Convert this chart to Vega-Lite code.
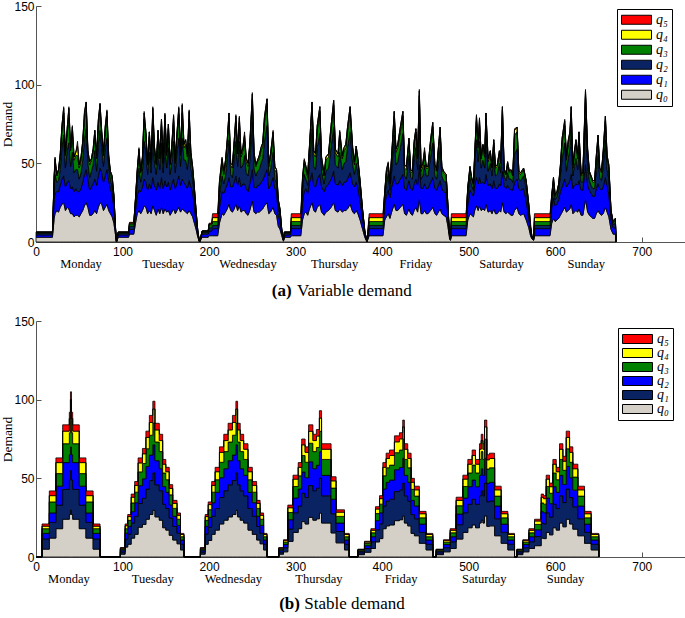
{
"$schema":"https://vega.github.io/schema/vega-lite/v6.json",
"padding":{"left":0,"top":0,"right":0,"bottom":0},
"background":"white",
"spacing":16,
"config":{"view":{"stroke":null},"axis":{"grid":false},"font":"Liberation Serif"},
"resolve":{"scale":{"color":"independent"},"legend":{"color":"independent"}},
"datasets":{
"top":[
{"x":0,"q0":3,"q1":1.5,"q2":1,"q3":0.8,"q4":0,"q5":0},
{"x":19,"q0":3,"q1":1.5,"q2":1,"q3":0.8,"q4":0,"q5":0},
{"x":21,"q0":15,"q1":12,"q2":8,"q3":6,"q4":1,"q5":0},
{"x":22,"q0":18,"q1":13,"q2":12,"q3":8,"q4":2,"q5":1},
{"x":24,"q0":20,"q1":12,"q2":6,"q3":4,"q4":1,"q5":0},
{"x":26,"q0":19,"q1":13,"q2":7,"q3":6,"q4":1,"q5":0},
{"x":28,"q0":22,"q1":14,"q2":10,"q3":8,"q4":2,"q5":0},
{"x":30,"q0":24,"q1":16,"q2":20,"q3":12,"q4":2,"q5":0},
{"x":32,"q0":25,"q1":17,"q2":26,"q3":14,"q4":3,"q5":1},
{"x":34,"q0":20,"q1":15,"q2":12,"q3":8,"q4":1,"q5":0},
{"x":36,"q0":22,"q1":16,"q2":20,"q3":11,"q4":3,"q5":0},
{"x":38,"q0":21,"q1":18,"q2":24,"q3":16,"q4":6,"q5":1},
{"x":40,"q0":18,"q1":16,"q2":14,"q3":10,"q4":2,"q5":0},
{"x":42,"q0":18,"q1":17,"q2":22,"q3":12,"q4":4,"q5":1},
{"x":44,"q0":16,"q1":16,"q2":12,"q3":8,"q4":2,"q5":0},
{"x":46,"q0":17,"q1":17,"q2":12,"q3":9,"q4":2,"q5":0},
{"x":48,"q0":17,"q1":15,"q2":14,"q3":9,"q4":6,"q5":3},
{"x":50,"q0":16,"q1":16,"q2":8,"q3":7,"q4":2,"q5":0},
{"x":52,"q0":18,"q1":16,"q2":10,"q3":8,"q4":2,"q5":0},
{"x":54,"q0":20,"q1":18,"q2":14,"q3":10,"q4":2,"q5":0},
{"x":56,"q0":23,"q1":20,"q2":22,"q3":13,"q4":4,"q5":1},
{"x":58,"q0":25,"q1":21,"q2":26,"q3":14,"q4":3,"q5":0},
{"x":60,"q0":22,"q1":18,"q2":10,"q3":6,"q4":2,"q5":0},
{"x":62,"q0":17,"q1":16,"q2":8,"q3":8,"q4":2,"q5":0},
{"x":64,"q0":17,"q1":18,"q2":10,"q3":7,"q4":1,"q5":0},
{"x":66,"q0":18,"q1":19,"q2":12,"q3":8,"q4":2,"q5":0},
{"x":68,"q0":20,"q1":20,"q2":18,"q3":10,"q4":3,"q5":0},
{"x":70,"q0":18,"q1":18,"q2":9,"q3":8,"q4":2,"q5":0},
{"x":72,"q0":22,"q1":20,"q2":20,"q3":12,"q4":3,"q5":1},
{"x":74,"q0":25,"q1":22,"q2":24,"q3":14,"q4":3,"q5":0},
{"x":76,"q0":24,"q1":20,"q2":16,"q3":8,"q4":2,"q5":0},
{"x":78,"q0":20,"q1":18,"q2":10,"q3":7,"q4":2,"q5":0},
{"x":80,"q0":22,"q1":20,"q2":18,"q3":10,"q4":3,"q5":1},
{"x":82,"q0":24,"q1":22,"q2":20,"q3":14,"q4":3,"q5":1},
{"x":84,"q0":20,"q1":19,"q2":8,"q3":6,"q4":2,"q5":0},
{"x":86,"q0":18,"q1":16,"q2":6,"q3":4,"q4":1,"q5":0},
{"x":88,"q0":16,"q1":14,"q2":5,"q3":5,"q4":2,"q5":0},
{"x":90,"q0":12,"q1":10,"q2":4,"q3":3,"q4":1,"q5":0},
{"x":92,"q0":4,"q1":2,"q2":1,"q3":1,"q4":0,"q5":0},
{"x":93,"q0":0,"q1":0,"q2":0,"q3":0,"q4":0,"q5":0},
{"x":95,"q0":3,"q1":1.5,"q2":1,"q3":0.8,"q4":0,"q5":0},
{"x":107,"q0":3,"q1":1.5,"q2":1,"q3":0.8,"q4":0,"q5":0},
{"x":108,"q0":5,"q1":3,"q2":2,"q3":1.5,"q4":0.5,"q5":0.5},
{"x":113,"q0":5,"q1":3,"q2":2,"q3":1.5,"q4":0.5,"q5":0.5},
{"x":115,"q0":12,"q1":8,"q2":4,"q3":3,"q4":1,"q5":0},
{"x":117,"q0":18,"q1":12,"q2":8,"q3":6,"q4":2,"q5":0},
{"x":119,"q0":20,"q1":13,"q2":14,"q3":10,"q4":2,"q5":1},
{"x":121,"q0":18,"q1":14,"q2":6,"q3":6,"q4":1,"q5":0},
{"x":123,"q0":20,"q1":15,"q2":10,"q3":8,"q4":1,"q5":0},
{"x":125,"q0":23,"q1":17,"q2":24,"q3":14,"q4":4,"q5":1},
{"x":127,"q0":22,"q1":16,"q2":20,"q3":10,"q4":2,"q5":0},
{"x":129,"q0":18,"q1":15,"q2":10,"q3":6,"q4":1,"q5":0},
{"x":131,"q0":20,"q1":17,"q2":20,"q3":10,"q4":3,"q5":0},
{"x":133,"q0":18,"q1":16,"q2":10,"q3":6,"q4":2,"q5":0},
{"x":135,"q0":23,"q1":18,"q2":26,"q3":14,"q4":4,"q5":1},
{"x":137,"q0":20,"q1":16,"q2":14,"q3":8,"q4":2,"q5":0},
{"x":139,"q0":17,"q1":16,"q2":10,"q3":6,"q4":1,"q5":0},
{"x":141,"q0":21,"q1":17,"q2":20,"q3":10,"q4":3,"q5":0},
{"x":143,"q0":18,"q1":16,"q2":12,"q3":7,"q4":2,"q5":0},
{"x":145,"q0":22,"q1":19,"q2":22,"q3":12,"q4":3,"q5":0},
{"x":147,"q0":18,"q1":16,"q2":10,"q3":6,"q4":2,"q5":0},
{"x":149,"q0":21,"q1":18,"q2":24,"q3":14,"q4":4,"q5":1},
{"x":151,"q0":19,"q1":16,"q2":12,"q3":8,"q4":2,"q5":0},
{"x":153,"q0":20,"q1":18,"q2":22,"q3":12,"q4":3,"q5":0},
{"x":155,"q0":17,"q1":16,"q2":10,"q3":6,"q4":1,"q5":0},
{"x":157,"q0":19,"q1":18,"q2":14,"q3":9,"q4":2,"q5":0},
{"x":159,"q0":21,"q1":19,"q2":24,"q3":13,"q4":3,"q5":1},
{"x":161,"q0":18,"q1":16,"q2":10,"q3":6,"q4":2,"q5":0},
{"x":163,"q0":20,"q1":18,"q2":20,"q3":10,"q4":2,"q5":0},
{"x":165,"q0":22,"q1":20,"q2":24,"q3":15,"q4":4,"q5":1},
{"x":167,"q0":19,"q1":17,"q2":12,"q3":7,"q4":2,"q5":0},
{"x":169,"q0":21,"q1":19,"q2":26,"q3":16,"q4":5,"q5":1},
{"x":171,"q0":20,"q1":18,"q2":14,"q3":8,"q4":2,"q5":0},
{"x":173,"q0":19,"q1":17,"q2":16,"q3":10,"q4":3,"q5":0},
{"x":175,"q0":18,"q1":16,"q2":12,"q3":8,"q4":2,"q5":0},
{"x":177,"q0":20,"q1":19,"q2":24,"q3":15,"q4":5,"q5":1},
{"x":179,"q0":18,"q1":17,"q2":12,"q3":8,"q4":2,"q5":0},
{"x":181,"q0":16,"q1":16,"q2":8,"q3":6,"q4":2,"q5":0},
{"x":183,"q0":12,"q1":10,"q2":8,"q3":4,"q4":1,"q5":0},
{"x":185,"q0":8,"q1":5,"q2":4,"q3":2,"q4":1,"q5":0},
{"x":187,"q0":3,"q1":2,"q2":1,"q3":1,"q4":0,"q5":0},
{"x":189,"q0":0,"q1":0,"q2":0,"q3":0,"q4":0,"q5":0},
{"x":192,"q0":3,"q1":2,"q2":1,"q3":1,"q4":0,"q5":0},
{"x":199,"q0":3,"q1":2,"q2":1,"q3":1,"q4":0,"q5":0},
{"x":200,"q0":4,"q1":3,"q2":2,"q3":2,"q4":0.5,"q5":0.5},
{"x":203,"q0":4,"q1":3,"q2":2,"q3":2,"q4":0.5,"q5":0.5},
{"x":204,"q0":4,"q1":4.5,"q2":2,"q3":2.5,"q4":2.5,"q5":2.5},
{"x":210,"q0":4,"q1":4.5,"q2":2,"q3":2.5,"q4":2.5,"q5":2.5},
{"x":212,"q0":12,"q1":10,"q2":8,"q3":6,"q4":2,"q5":1},
{"x":215,"q0":18,"q1":14,"q2":10,"q3":8,"q4":3,"q5":1},
{"x":217,"q0":17,"q1":14,"q2":6,"q3":6,"q4":2,"q5":0},
{"x":219,"q0":19,"q1":15,"q2":8,"q3":8,"q4":2,"q5":0},
{"x":221,"q0":21,"q1":16,"q2":16,"q3":10,"q4":2,"q5":0},
{"x":223,"q0":24,"q1":17,"q2":24,"q3":14,"q4":3,"q5":0},
{"x":225,"q0":20,"q1":15,"q2":8,"q3":6,"q4":1,"q5":0},
{"x":227,"q0":19,"q1":16,"q2":6,"q3":6,"q4":2,"q5":0},
{"x":229,"q0":21,"q1":17,"q2":14,"q3":10,"q4":2,"q5":0},
{"x":231,"q0":24,"q1":18,"q2":22,"q3":13,"q4":3,"q5":1},
{"x":233,"q0":20,"q1":16,"q2":12,"q3":8,"q4":2,"q5":0},
{"x":235,"q0":23,"q1":18,"q2":23,"q3":12,"q4":3,"q5":1},
{"x":237,"q0":19,"q1":16,"q2":12,"q3":7,"q4":2,"q5":0},
{"x":239,"q0":20,"q1":17,"q2":12,"q3":9,"q4":2,"q5":0},
{"x":241,"q0":20,"q1":17,"q2":18,"q3":10,"q4":3,"q5":2},
{"x":243,"q0":18,"q1":16,"q2":10,"q3":7,"q4":2,"q5":0},
{"x":245,"q0":17,"q1":15,"q2":10,"q3":6,"q4":2,"q5":0},
{"x":247,"q0":20,"q1":17,"q2":14,"q3":9,"q4":2,"q5":0},
{"x":250,"q0":26,"q1":20,"q2":30,"q3":15,"q4":3,"q5":1},
{"x":252,"q0":19,"q1":16,"q2":12,"q3":8,"q4":2,"q5":0},
{"x":254,"q0":18,"q1":16,"q2":8,"q3":6,"q4":1,"q5":0},
{"x":256,"q0":19,"q1":17,"q2":9,"q3":6,"q4":1,"q5":0},
{"x":258,"q0":19,"q1":17,"q2":10,"q3":7,"q4":2,"q5":0},
{"x":260,"q0":20,"q1":18,"q2":12,"q3":8,"q4":2,"q5":0},
{"x":262,"q0":21,"q1":18,"q2":14,"q3":8,"q4":2,"q5":0},
{"x":264,"q0":23,"q1":19,"q2":22,"q3":12,"q4":3,"q5":1},
{"x":267,"q0":25,"q1":21,"q2":28,"q3":14,"q4":3,"q5":0},
{"x":269,"q0":18,"q1":16,"q2":8,"q3":6,"q4":2,"q5":0},
{"x":271,"q0":19,"q1":17,"q2":10,"q3":8,"q4":2,"q5":0},
{"x":274,"q0":22,"q1":19,"q2":16,"q3":10,"q4":3,"q5":1},
{"x":276,"q0":18,"q1":16,"q2":6,"q3":6,"q4":2,"q5":0},
{"x":278,"q0":17,"q1":15,"q2":6,"q3":6,"q4":2,"q5":0},
{"x":280,"q0":10,"q1":7,"q2":6,"q3":3,"q4":1,"q5":0},
{"x":282,"q0":8,"q1":5,"q2":4,"q3":3,"q4":1,"q5":0},
{"x":284,"q0":4,"q1":2,"q2":1,"q3":1,"q4":0,"q5":0},
{"x":286,"q0":0.5,"q1":0.5,"q2":0,"q3":0,"q4":0,"q5":0},
{"x":287,"q0":3,"q1":1.5,"q2":1,"q3":0.8,"q4":0,"q5":0},
{"x":294,"q0":3,"q1":1.5,"q2":1,"q3":0.8,"q4":0,"q5":0},
{"x":295,"q0":4,"q1":4.5,"q2":2,"q3":2.5,"q4":2.5,"q5":2.5},
{"x":306,"q0":4,"q1":4.5,"q2":2,"q3":2.5,"q4":2.5,"q5":2.5},
{"x":308,"q0":14,"q1":11,"q2":8,"q3":6,"q4":2,"q5":0},
{"x":310,"q0":18,"q1":15,"q2":10,"q3":7,"q4":2,"q5":1},
{"x":312,"q0":19,"q1":15,"q2":6,"q3":6,"q4":2,"q5":0},
{"x":314,"q0":17,"q1":14,"q2":5,"q3":5,"q4":2,"q5":0},
{"x":316,"q0":21,"q1":17,"q2":12,"q3":9,"q4":2,"q5":0},
{"x":319,"q0":25,"q1":19,"q2":28,"q3":14,"q4":3,"q5":0},
{"x":321,"q0":20,"q1":16,"q2":12,"q3":8,"q4":2,"q5":0},
{"x":323,"q0":19,"q1":16,"q2":11,"q3":8,"q4":2,"q5":0},
{"x":325,"q0":22,"q1":18,"q2":20,"q3":11,"q4":3,"q5":0},
{"x":328,"q0":24,"q1":19,"q2":26,"q3":14,"q4":3,"q5":0},
{"x":330,"q0":19,"q1":16,"q2":10,"q3":7,"q4":2,"q5":0},
{"x":333,"q0":17,"q1":15,"q2":5,"q3":5,"q4":1,"q5":0},
{"x":335,"q0":19,"q1":16,"q2":10,"q3":7,"q4":2,"q5":0},
{"x":338,"q0":20,"q1":17,"q2":10,"q3":7,"q4":2,"q5":0},
{"x":341,"q0":22,"q1":18,"q2":20,"q3":11,"q4":3,"q5":0},
{"x":344,"q0":25,"q1":20,"q2":28,"q3":14,"q4":3,"q5":0},
{"x":346,"q0":20,"q1":17,"q2":12,"q3":8,"q4":2,"q5":0},
{"x":349,"q0":19,"q1":17,"q2":11,"q3":7,"q4":2,"q5":0},
{"x":351,"q0":21,"q1":18,"q2":18,"q3":10,"q4":3,"q5":1},
{"x":354,"q0":19,"q1":17,"q2":10,"q3":7,"q4":2,"q5":0},
{"x":356,"q0":20,"q1":18,"q2":12,"q3":8,"q4":2,"q5":0},
{"x":358,"q0":20,"q1":18,"q2":13,"q3":9,"q4":2,"q5":0},
{"x":360,"q0":21,"q1":19,"q2":20,"q3":10,"q4":3,"q5":0},
{"x":363,"q0":24,"q1":20,"q2":26,"q3":13,"q4":3,"q5":0},
{"x":366,"q0":19,"q1":18,"q2":12,"q3":9,"q4":2,"q5":0},
{"x":368,"q0":18,"q1":17,"q2":8,"q3":6,"q4":2,"q5":0},
{"x":370,"q0":20,"q1":18,"q2":12,"q3":9,"q4":2,"q5":0},
{"x":372,"q0":18,"q1":17,"q2":9,"q3":7,"q4":2,"q5":0},
{"x":374.5,"q0":14,"q1":12,"q2":8,"q3":4,"q4":1,"q5":0},
{"x":377.5,"q0":8,"q1":6,"q2":4,"q3":2,"q4":0,"q5":0},
{"x":380,"q0":3,"q1":2,"q2":1,"q3":1,"q4":0,"q5":0},
{"x":382.5,"q0":0,"q1":0,"q2":0,"q3":0,"q4":0,"q5":0},
{"x":385,"q0":4,"q1":4.5,"q2":2,"q3":2.5,"q4":2.5,"q5":2.5},
{"x":401,"q0":4,"q1":4.5,"q2":2,"q3":2.5,"q4":2.5,"q5":2.5},
{"x":403,"q0":14,"q1":10,"q2":4,"q3":3,"q4":1,"q5":0},
{"x":405,"q0":16,"q1":14,"q2":8,"q3":6,"q4":2,"q5":0},
{"x":407,"q0":18,"q1":15,"q2":10,"q3":5,"q4":2,"q5":1},
{"x":409,"q0":15,"q1":13,"q2":5,"q3":4,"q4":1,"q5":0},
{"x":411,"q0":19,"q1":16,"q2":10,"q3":8,"q4":2,"q5":0},
{"x":414,"q0":24,"q1":18,"q2":26,"q3":12,"q4":3,"q5":0},
{"x":416,"q0":20,"q1":17,"q2":12,"q3":8,"q4":2,"q5":0},
{"x":418,"q0":20,"q1":17,"q2":14,"q3":9,"q4":2,"q5":0},
{"x":421,"q0":22,"q1":18,"q2":20,"q3":10,"q4":3,"q5":0},
{"x":424,"q0":24,"q1":19,"q2":26,"q3":11,"q4":3,"q5":0},
{"x":426,"q0":18,"q1":16,"q2":8,"q3":5,"q4":2,"q5":0},
{"x":428,"q0":17,"q1":16,"q2":7,"q3":6,"q4":2,"q5":0},
{"x":431,"q0":21,"q1":18,"q2":16,"q3":9,"q4":2,"q5":0},
{"x":433,"q0":18,"q1":16,"q2":7,"q3":4,"q4":1,"q5":0},
{"x":435,"q0":17,"q1":16,"q2":7,"q3":4,"q4":1,"q5":0},
{"x":437,"q0":20,"q1":17,"q2":16,"q3":9,"q4":2,"q5":0},
{"x":439,"q0":22,"q1":18,"q2":20,"q3":10,"q4":2,"q5":0},
{"x":441,"q0":19,"q1":17,"q2":10,"q3":7,"q4":2,"q5":0},
{"x":443,"q0":27,"q1":22,"q2":32,"q3":12,"q4":3,"q5":1},
{"x":445,"q0":18,"q1":16,"q2":6,"q3":5,"q4":2,"q5":0},
{"x":447,"q0":18,"q1":16,"q2":8,"q3":6,"q4":2,"q5":0},
{"x":449,"q0":20,"q1":17,"q2":12,"q3":6,"q4":3,"q5":2},
{"x":451,"q0":18,"q1":16,"q2":8,"q3":5,"q4":1,"q5":0},
{"x":453,"q0":18,"q1":16,"q2":8,"q3":5,"q4":1,"q5":0},
{"x":456,"q0":20,"q1":18,"q2":16,"q3":9,"q4":2,"q5":0},
{"x":458.5,"q0":22,"q1":19,"q2":22,"q3":10,"q4":3,"q5":0},
{"x":461,"q0":18,"q1":16,"q2":8,"q3":5,"q4":2,"q5":0},
{"x":463,"q0":17,"q1":16,"q2":7,"q3":5,"q4":1,"q5":0},
{"x":465,"q0":19,"q1":17,"q2":14,"q3":8,"q4":2,"q5":0},
{"x":467,"q0":21,"q1":18,"q2":21,"q3":10,"q4":3,"q5":0},
{"x":469,"q0":18,"q1":16,"q2":8,"q3":5,"q4":1,"q5":0},
{"x":471,"q0":17,"q1":15,"q2":7,"q3":5,"q4":1,"q5":0},
{"x":474,"q0":16,"q1":15,"q2":7,"q3":4,"q4":1,"q5":0},
{"x":476,"q0":10,"q1":6,"q2":5,"q3":2,"q4":1,"q5":0},
{"x":478,"q0":2,"q1":1,"q2":0.5,"q3":0,"q4":0,"q5":0},
{"x":479,"q0":1,"q1":0.5,"q2":0,"q3":0,"q4":0,"q5":0},
{"x":480,"q0":4,"q1":4.5,"q2":2,"q3":2.5,"q4":2.5,"q5":2.5},
{"x":497,"q0":4,"q1":4.5,"q2":2,"q3":2.5,"q4":2.5,"q5":2.5},
{"x":499,"q0":14,"q1":10,"q2":6,"q3":4,"q4":1,"q5":0},
{"x":501.5,"q0":18,"q1":15,"q2":8,"q3":5,"q4":2,"q5":0},
{"x":503.5,"q0":17,"q1":14,"q2":5,"q3":4,"q4":1,"q5":0},
{"x":505.5,"q0":16,"q1":13,"q2":4,"q3":3,"q4":1,"q5":0},
{"x":507,"q0":20,"q1":16,"q2":12,"q3":7,"q4":2,"q5":0},
{"x":509,"q0":23,"q1":18,"q2":24,"q3":12,"q4":3,"q5":1},
{"x":511,"q0":20,"q1":17,"q2":14,"q3":9,"q4":2,"q5":0},
{"x":512.5,"q0":23,"q1":18,"q2":23,"q3":11,"q4":3,"q5":1},
{"x":514.5,"q0":20,"q1":17,"q2":10,"q3":6,"q4":2,"q5":0},
{"x":516.5,"q0":21,"q1":17,"q2":14,"q3":8,"q4":2,"q5":0},
{"x":518.5,"q0":20,"q1":17,"q2":10,"q3":7,"q4":2,"q5":0},
{"x":520,"q0":24,"q1":19,"q2":24,"q3":12,"q4":3,"q5":0},
{"x":522.5,"q0":19,"q1":17,"q2":9,"q3":6,"q4":2,"q5":0},
{"x":525,"q0":20,"q1":17,"q2":13,"q3":6,"q4":2,"q5":0},
{"x":527,"q0":18,"q1":16,"q2":8,"q3":5,"q4":1,"q5":0},
{"x":529,"q0":21,"q1":18,"q2":16,"q3":8,"q4":2,"q5":0},
{"x":531,"q0":18,"q1":16,"q2":8,"q3":5,"q4":1,"q5":0},
{"x":533,"q0":18,"q1":16,"q2":9,"q3":5,"q4":1,"q5":0},
{"x":535.5,"q0":20,"q1":17,"q2":13,"q3":6,"q4":2,"q5":0},
{"x":537,"q0":19,"q1":17,"q2":8,"q3":6,"q4":2,"q5":0},
{"x":539,"q0":25,"q1":20,"q2":28,"q3":11,"q4":2,"q5":0},
{"x":541,"q0":19,"q1":17,"q2":6,"q3":4,"q4":1,"q5":0},
{"x":543,"q0":18,"q1":16,"q2":5,"q3":4,"q4":0,"q5":0},
{"x":545,"q0":19,"q1":17,"q2":8,"q3":5,"q4":2,"q5":0},
{"x":547,"q0":18,"q1":16,"q2":6,"q3":4,"q4":1,"q5":0},
{"x":549,"q0":17,"q1":16,"q2":7,"q3":5,"q4":1,"q5":0},
{"x":551,"q0":17,"q1":16,"q2":5,"q3":4,"q4":1,"q5":0},
{"x":553,"q0":20,"q1":18,"q2":18,"q3":12,"q4":3,"q5":1},
{"x":556,"q0":22,"q1":18,"q2":19,"q3":11,"q4":3,"q5":0},
{"x":558,"q0":18,"q1":16,"q2":6,"q3":4,"q4":1,"q5":0},
{"x":560,"q0":17,"q1":16,"q2":6,"q3":4,"q4":1,"q5":0},
{"x":563.5,"q0":18,"q1":16,"q2":8,"q3":4,"q4":1,"q5":0},
{"x":566.5,"q0":14,"q1":12,"q2":8,"q3":4,"q4":1,"q5":0},
{"x":569.5,"q0":9,"q1":6,"q2":5,"q3":3,"q4":1,"q5":0},
{"x":571.5,"q0":4,"q1":2,"q2":2,"q3":1,"q4":1,"q5":2},
{"x":573,"q0":2,"q1":1,"q2":0.5,"q3":0.5,"q4":0,"q5":0},
{"x":575,"q0":1,"q1":0.5,"q2":0.3,"q3":0,"q4":0,"q5":0},
{"x":576,"q0":4,"q1":4.5,"q2":2,"q3":2.5,"q4":2.5,"q5":2.5},
{"x":594,"q0":4,"q1":4.5,"q2":2,"q3":2.5,"q4":2.5,"q5":2.5},
{"x":596,"q0":12,"q1":10,"q2":4,"q3":3,"q4":1,"q5":0},
{"x":598,"q0":15,"q1":13,"q2":6,"q3":5,"q4":2,"q5":0},
{"x":600,"q0":13,"q1":10,"q2":4,"q3":2,"q4":1,"q5":0},
{"x":602,"q0":14,"q1":10,"q2":5,"q3":2,"q4":1,"q5":0},
{"x":604,"q0":15,"q1":12,"q2":6,"q3":3,"q4":1,"q5":0},
{"x":606,"q0":17,"q1":15,"q2":10,"q3":5,"q4":2,"q5":0},
{"x":608,"q0":19,"q1":16,"q2":18,"q3":10,"q4":3,"q5":0},
{"x":611,"q0":22,"q1":18,"q2":23,"q3":11,"q4":3,"q5":1},
{"x":613,"q0":19,"q1":16,"q2":10,"q3":7,"q4":2,"q5":0},
{"x":615,"q0":20,"q1":17,"q2":16,"q3":9,"q4":2,"q5":1},
{"x":617,"q0":21,"q1":18,"q2":20,"q3":9,"q4":2,"q5":0},
{"x":618.5,"q0":24,"q1":19,"q2":27,"q3":12,"q4":4,"q5":0},
{"x":620.5,"q0":18,"q1":16,"q2":8,"q3":5,"q4":2,"q5":0},
{"x":622,"q0":19,"q1":17,"q2":12,"q3":7,"q4":2,"q5":0},
{"x":624,"q0":20,"q1":17,"q2":16,"q3":10,"q4":2,"q5":0},
{"x":626,"q0":19,"q1":17,"q2":10,"q3":7,"q4":2,"q5":0},
{"x":627.5,"q0":21,"q1":18,"q2":18,"q3":10,"q4":3,"q5":0},
{"x":630,"q0":17,"q1":16,"q2":5,"q3":4,"q4":1,"q5":0},
{"x":632,"q0":17,"q1":16,"q2":5,"q3":5,"q4":1,"q5":0},
{"x":635,"q0":27,"q1":22,"q2":30,"q3":14,"q4":3,"q5":1},
{"x":637.5,"q0":19,"q1":17,"q2":12,"q3":9,"q4":2,"q5":0},
{"x":639.5,"q0":17,"q1":16,"q2":6,"q3":5,"q4":1,"q5":0},
{"x":641.5,"q0":16,"q1":15,"q2":5,"q3":5,"q4":1,"q5":0},
{"x":643.5,"q0":15,"q1":14,"q2":5,"q3":4,"q4":1,"q5":0},
{"x":645.5,"q0":15,"q1":14,"q2":5,"q3":4,"q4":1,"q5":0},
{"x":647.5,"q0":18,"q1":16,"q2":12,"q3":7,"q4":2,"q5":0},
{"x":649.5,"q0":20,"q1":17,"q2":18,"q3":10,"q4":3,"q5":0},
{"x":651.5,"q0":18,"q1":16,"q2":7,"q3":5,"q4":1,"q5":0},
{"x":653.5,"q0":17,"q1":16,"q2":6,"q3":5,"q4":1,"q5":0},
{"x":655.5,"q0":18,"q1":17,"q2":13,"q3":8,"q4":2,"q5":0},
{"x":658,"q0":22,"q1":19,"q2":24,"q3":12,"q4":3,"q5":0},
{"x":660,"q0":19,"q1":17,"q2":10,"q3":7,"q4":2,"q5":0},
{"x":662,"q0":16,"q1":14,"q2":10,"q3":7,"q4":2,"q5":0},
{"x":664.5,"q0":8,"q1":6,"q2":4,"q3":2,"q4":0,"q5":0},
{"x":667,"q0":5,"q1":4,"q2":2,"q3":1,"q4":1,"q5":0},
{"x":669.5,"q0":5,"q1":4,"q2":3,"q3":2,"q4":1,"q5":0},
{"x":670.5,"q0":0,"q1":0,"q2":0,"q3":0,"q4":0,"q5":0}
],
"bottom":[
{"x":0,"q0":0,"q1":0,"q2":0,"q3":0,"q4":0,"q5":0},
{"x":7,"q0":5,"q1":6.5,"q2":3.5,"q3":3,"q4":1.6,"q5":1.4},
{"x":15.4,"q0":12,"q1":10,"q2":6,"q3":7,"q4":4,"q5":3},
{"x":23,"q0":18,"q1":15,"q2":12,"q3":8,"q4":7,"q5":3},
{"x":30.8,"q0":24,"q1":19,"q2":17,"q3":12,"q4":8,"q5":4},
{"x":38.5,"q0":27,"q1":22,"q2":16,"q3":14,"q4":9,"q5":4},
{"x":39.8,"q0":30,"q1":25,"q2":15,"q3":20,"q4":10,"q5":5},
{"x":41,"q0":27,"q1":22,"q2":16,"q3":14,"q4":9,"q5":4},
{"x":42.4,"q0":24,"q1":19,"q2":17,"q3":12,"q4":8,"q5":4},
{"x":50,"q0":18,"q1":15,"q2":12,"q3":8,"q4":7,"q5":3},
{"x":57.7,"q0":12,"q1":10,"q2":6,"q3":7,"q4":4,"q5":3},
{"x":66,"q0":5,"q1":6.5,"q2":3.5,"q3":3,"q4":1.6,"q5":1.4},
{"x":74,"q0":0,"q1":0,"q2":0,"q3":0,"q4":0,"q5":0},
{"x":97.5,"q0":1.8,"q1":1.4,"q2":1.1,"q3":0.8,"q4":0.5,"q5":0.4},
{"x":103,"q0":6.3,"q1":5,"q2":3.8,"q3":2.9,"q4":1.9,"q5":1.1},
{"x":106,"q0":8.1,"q1":6.5,"q2":4.9,"q3":3.8,"q4":2.4,"q5":1.3},
{"x":110,"q0":12,"q1":9.6,"q2":7.2,"q3":5.6,"q4":3.6,"q5":2},
{"x":114,"q0":14.4,"q1":11.5,"q2":8.6,"q3":6.7,"q4":4.3,"q5":2.5},
{"x":118,"q0":18.9,"q1":15.1,"q2":11.3,"q3":8.8,"q4":5.7,"q5":3.2},
{"x":123,"q0":20.7,"q1":16.6,"q2":12.4,"q3":9.7,"q4":6.2,"q5":3.4},
{"x":127,"q0":24,"q1":19.2,"q2":14.4,"q3":11.2,"q4":7.2,"q5":4},
{"x":131,"q0":27,"q1":21.6,"q2":16.2,"q3":12.6,"q4":8.1,"q5":4.5},
{"x":135,"q0":29.7,"q1":23.8,"q2":17.8,"q3":13.9,"q4":8.9,"q5":4.9},
{"x":137.5,"q0":25.5,"q1":20.4,"q2":15.3,"q3":11.9,"q4":7.7,"q5":4.2},
{"x":142.5,"q0":23.4,"q1":18.7,"q2":14,"q3":10.9,"q4":7,"q5":4},
{"x":146.4,"q0":18.6,"q1":14.9,"q2":11.2,"q3":8.7,"q4":5.6,"q5":3},
{"x":150,"q0":17.1,"q1":13.7,"q2":10.3,"q3":8,"q4":5.1,"q5":2.8},
{"x":154,"q0":13.8,"q1":11,"q2":8.3,"q3":6.4,"q4":4.1,"q5":2.4},
{"x":158,"q0":10.8,"q1":8.6,"q2":6.5,"q3":5,"q4":3.2,"q5":1.9},
{"x":163,"q0":8.4,"q1":6.7,"q2":5,"q3":3.9,"q4":2.5,"q5":1.5},
{"x":167,"q0":4.5,"q1":3.6,"q2":2.7,"q3":2.1,"q4":1.4,"q5":0.7},
{"x":171,"q0":0,"q1":0,"q2":0,"q3":0,"q4":0,"q5":0},
{"x":190,"q0":1.8,"q1":1.4,"q2":1.1,"q3":0.8,"q4":0.5,"q5":0.4},
{"x":195.5,"q0":8.1,"q1":6.5,"q2":4.9,"q3":3.8,"q4":2.4,"q5":1.3},
{"x":199,"q0":10.5,"q1":8.4,"q2":6.3,"q3":4.9,"q4":3.2,"q5":1.7},
{"x":203,"q0":14.4,"q1":11.5,"q2":8.6,"q3":6.7,"q4":4.3,"q5":2.5},
{"x":207,"q0":17.1,"q1":13.7,"q2":10.3,"q3":8,"q4":5.1,"q5":2.8},
{"x":212,"q0":21,"q1":16.8,"q2":12.6,"q3":9.8,"q4":6.3,"q5":3.5},
{"x":217,"q0":23.4,"q1":18.7,"q2":14,"q3":10.9,"q4":7,"q5":4},
{"x":222,"q0":25.5,"q1":20.4,"q2":15.3,"q3":11.9,"q4":7.7,"q5":4.2},
{"x":227,"q0":27,"q1":21.6,"q2":16.2,"q3":12.6,"q4":8.1,"q5":4.5},
{"x":231,"q0":29.7,"q1":23.8,"q2":17.8,"q3":13.9,"q4":8.9,"q5":4.9},
{"x":233,"q0":25.5,"q1":20.4,"q2":15.3,"q3":11.9,"q4":7.7,"q5":4.2},
{"x":236,"q0":23.4,"q1":18.7,"q2":14,"q3":10.9,"q4":7,"q5":4},
{"x":240,"q0":21.6,"q1":17.3,"q2":13,"q3":10.1,"q4":6.5,"q5":3.5},
{"x":245,"q0":17.1,"q1":13.7,"q2":10.3,"q3":8,"q4":5.1,"q5":2.8},
{"x":250,"q0":14.4,"q1":11.5,"q2":8.6,"q3":6.7,"q4":4.3,"q5":2.5},
{"x":255,"q0":10.8,"q1":8.6,"q2":6.5,"q3":5,"q4":3.2,"q5":1.9},
{"x":259,"q0":8.4,"q1":6.7,"q2":5,"q3":3.9,"q4":2.5,"q5":1.5},
{"x":263,"q0":4.5,"q1":3.6,"q2":2.7,"q3":2.1,"q4":1.4,"q5":0.7},
{"x":267,"q0":0,"q1":0,"q2":0,"q3":0,"q4":0,"q5":0},
{"x":280.5,"q0":1.8,"q1":1.4,"q2":1.1,"q3":0.8,"q4":0.5,"q5":0.4},
{"x":286,"q0":3.3,"q1":2.6,"q2":2,"q3":1.5,"q4":1,"q5":0.6},
{"x":291,"q0":9.9,"q1":7.9,"q2":5.9,"q3":4.6,"q4":3,"q5":1.7},
{"x":297,"q0":15.6,"q1":12.5,"q2":9.4,"q3":7.3,"q4":4.7,"q5":2.5},
{"x":303,"q0":18,"q1":14.4,"q2":10.8,"q3":8.4,"q4":5.4,"q5":3},
{"x":307,"q0":22.5,"q1":18,"q2":13.5,"q3":10.5,"q4":6.8,"q5":3.7},
{"x":311,"q0":21,"q1":16.8,"q2":12.6,"q3":9.8,"q4":6.3,"q5":3.5},
{"x":315,"q0":25.2,"q1":20.2,"q2":15.1,"q3":11.8,"q4":7.6,"q5":4.1},
{"x":320,"q0":23.4,"q1":18.7,"q2":14,"q3":10.9,"q4":7,"q5":4},
{"x":324,"q0":24.3,"q1":19.4,"q2":14.6,"q3":11.3,"q4":7.3,"q5":4.1},
{"x":327.5,"q0":27.9,"q1":22.3,"q2":16.7,"q3":13,"q4":8.4,"q5":4.7},
{"x":330,"q0":21.6,"q1":17.3,"q2":13,"q3":10.1,"q4":6.5,"q5":3.5},
{"x":341,"q0":15.3,"q1":12.2,"q2":9.2,"q3":7.1,"q4":4.6,"q5":2.6},
{"x":346.8,"q0":9,"q1":7.2,"q2":5.4,"q3":4.2,"q4":2.7,"q5":1.5},
{"x":356.5,"q0":4.5,"q1":3.6,"q2":2.7,"q3":2.1,"q4":1.4,"q5":0.7},
{"x":362,"q0":0,"q1":0,"q2":0,"q3":0,"q4":0,"q5":0},
{"x":372,"q0":1.5,"q1":1.2,"q2":0.9,"q3":0.7,"q4":0.45,"q5":0.25},
{"x":379.6,"q0":3,"q1":2.4,"q2":1.8,"q3":1.4,"q4":0.9,"q5":0.5},
{"x":387,"q0":5.4,"q1":4.3,"q2":3.2,"q3":2.5,"q4":1.6,"q5":1},
{"x":392.3,"q0":9.6,"q1":7.7,"q2":5.8,"q3":4.5,"q4":2.9,"q5":1.5},
{"x":397,"q0":11.7,"q1":9.4,"q2":7,"q3":5.5,"q4":3.5,"q5":1.9},
{"x":400.8,"q0":18,"q1":14.4,"q2":10.8,"q3":8.4,"q4":5.4,"q5":3},
{"x":404.6,"q0":19.8,"q1":15.8,"q2":11.9,"q3":9.2,"q4":5.9,"q5":3.4},
{"x":408.5,"q0":20.4,"q1":16.3,"q2":12.2,"q3":9.5,"q4":6.1,"q5":3.5},
{"x":414.2,"q0":23.1,"q1":18.5,"q2":13.9,"q3":10.8,"q4":6.9,"q5":3.8},
{"x":420,"q0":23.7,"q1":19,"q2":14.2,"q3":11.1,"q4":7.1,"q5":3.9},
{"x":423.8,"q0":26.1,"q1":20.9,"q2":15.7,"q3":12.2,"q4":7.8,"q5":4.3},
{"x":425.7,"q0":21.6,"q1":17.3,"q2":13,"q3":10.1,"q4":6.5,"q5":3.5},
{"x":429.6,"q0":19.8,"q1":15.8,"q2":11.9,"q3":9.2,"q4":5.9,"q5":3.4},
{"x":433.5,"q0":15,"q1":12,"q2":9,"q3":7,"q4":4.5,"q5":2.5},
{"x":437.3,"q0":13.5,"q1":10.8,"q2":8.1,"q3":6.3,"q4":4,"q5":2.3},
{"x":443,"q0":8.7,"q1":7,"q2":5.2,"q3":4,"q4":2.6,"q5":1.5},
{"x":450.8,"q0":4.5,"q1":3.6,"q2":2.7,"q3":2.1,"q4":1.4,"q5":0.7},
{"x":458.6,"q0":0,"q1":0,"q2":0,"q3":0,"q4":0,"q5":0},
{"x":462.4,"q0":1.5,"q1":1.2,"q2":0.9,"q3":0.7,"q4":0.45,"q5":0.25},
{"x":470.9,"q0":3.3,"q1":2.6,"q2":2,"q3":1.5,"q4":1,"q5":0.6},
{"x":478.6,"q0":5.4,"q1":4.3,"q2":3.2,"q3":2.5,"q4":1.6,"q5":1},
{"x":485.5,"q0":11.4,"q1":9.1,"q2":6.8,"q3":5.3,"q4":3.4,"q5":2},
{"x":493.3,"q0":15.6,"q1":12.5,"q2":9.4,"q3":7.3,"q4":4.7,"q5":2.5},
{"x":499,"q0":18.6,"q1":14.9,"q2":11.2,"q3":8.7,"q4":5.6,"q5":3},
{"x":504,"q0":20.4,"q1":16.3,"q2":12.2,"q3":9.5,"q4":6.1,"q5":3.5},
{"x":507.9,"q0":18.6,"q1":14.9,"q2":11.2,"q3":8.7,"q4":5.6,"q5":3},
{"x":512.5,"q0":21.6,"q1":17.3,"q2":13,"q3":10.1,"q4":6.5,"q5":3.5},
{"x":514.5,"q0":23.4,"q1":18.7,"q2":14,"q3":10.9,"q4":7,"q5":4},
{"x":516.5,"q0":21.6,"q1":17.3,"q2":13,"q3":10.1,"q4":6.5,"q5":3.5},
{"x":518.3,"q0":26.1,"q1":20.9,"q2":15.7,"q3":12.2,"q4":7.8,"q5":4.3},
{"x":521,"q0":19.5,"q1":15.6,"q2":11.7,"q3":9.1,"q4":5.9,"q5":3.2},
{"x":524,"q0":19.8,"q1":15.8,"q2":11.9,"q3":9.2,"q4":5.9,"q5":3.4},
{"x":530,"q0":13.5,"q1":10.8,"q2":8.1,"q3":6.3,"q4":4,"q5":2.3},
{"x":537.6,"q0":8.7,"q1":7,"q2":5.2,"q3":4,"q4":2.6,"q5":1.5},
{"x":545.3,"q0":4.5,"q1":3.6,"q2":2.7,"q3":2.1,"q4":1.4,"q5":0.7},
{"x":553,"q0":0,"q1":0,"q2":0,"q3":0,"q4":0,"q5":0},
{"x":555.7,"q0":1.5,"q1":1.2,"q2":0.9,"q3":0.7,"q4":0.45,"q5":0.25},
{"x":562.6,"q0":3.3,"q1":2.6,"q2":2,"q3":1.5,"q4":1,"q5":0.6},
{"x":569.6,"q0":5.4,"q1":4.3,"q2":3.2,"q3":2.5,"q4":1.6,"q5":1},
{"x":576.1,"q0":7.2,"q1":5.8,"q2":4.3,"q3":3.4,"q4":2.2,"q5":1.1},
{"x":583.8,"q0":12,"q1":9.6,"q2":7.2,"q3":5.6,"q4":3.6,"q5":2},
{"x":586.5,"q0":11.7,"q1":9.4,"q2":7,"q3":5.5,"q4":3.5,"q5":1.9},
{"x":589.6,"q0":15.6,"q1":12.5,"q2":9.4,"q3":7.3,"q4":4.7,"q5":2.5},
{"x":593.4,"q0":14.1,"q1":11.3,"q2":8.5,"q3":6.6,"q4":4.2,"q5":2.3},
{"x":597.3,"q0":18.6,"q1":14.9,"q2":11.2,"q3":8.7,"q4":5.6,"q5":3},
{"x":601.2,"q0":17.1,"q1":13.7,"q2":10.3,"q3":8,"q4":5.1,"q5":2.8},
{"x":605,"q0":21.6,"q1":17.3,"q2":13,"q3":10.1,"q4":6.5,"q5":3.5},
{"x":608.9,"q0":19.2,"q1":15.4,"q2":11.5,"q3":9,"q4":5.8,"q5":3.1},
{"x":612.7,"q0":24,"q1":19.2,"q2":14.4,"q3":11.2,"q4":7.2,"q5":4},
{"x":616.6,"q0":21,"q1":16.8,"q2":12.6,"q3":9.8,"q4":6.3,"q5":3.5},
{"x":620.4,"q0":17.7,"q1":14.2,"q2":10.6,"q3":8.3,"q4":5.3,"q5":2.9},
{"x":626.2,"q0":13.5,"q1":10.8,"q2":8.1,"q3":6.3,"q4":4,"q5":2.3},
{"x":633.9,"q0":8.7,"q1":7,"q2":5.2,"q3":4,"q4":2.6,"q5":1.5},
{"x":641.6,"q0":4.5,"q1":3.6,"q2":2.7,"q3":2.1,"q4":1.4,"q5":0.7},
{"x":650.4,"q0":0,"q1":0,"q2":0,"q3":0,"q4":0,"q5":0}
],
"days_a":[
{"x":52,"day":"Monday"},{"x":147,"day":"Tuesday"},{"x":245,"day":"Wednesday"},{"x":345,"day":"Thursday"},{"x":439,"day":"Friday"},{"x":538,"day":"Saturday"},{"x":636,"day":"Sunday"}
],
"days_b":[
{"x":38,"day":"Monday"},{"x":135,"day":"Tuesday"},{"x":228,"day":"Wednesday"},{"x":327,"day":"Thursday"},{"x":422,"day":"Friday"},{"x":518,"day":"Saturday"},{"x":612,"day":"Sunday"}
]
},
"vconcat":[
{
"width":649,"height":236,
"layer":[
{
"data":{"name":"top"},
"transform":[{"fold":["q0","q1","q2","q3","q4","q5"],"as":["series","value"]}],
"mark":{"type":"area","interpolate":"linear","stroke":"black","strokeWidth":0.8,"opacity":1},
"encoding":{
"x":{"field":"x","type":"quantitative","scale":{"domain":[0,750],"nice":false},
"axis":{"title":null,"values":[0,100,200,300,400,500,600,700],"tickSize":-5,"labelPadding":9,"labelFlush":false,"labelOverlap":false,"labelFont":"Liberation Sans","labelFontSize":12,"labelColor":"black","domainColor":"#555","tickColor":"#555"}},
"y":{"field":"value","type":"quantitative","stack":"zero","scale":{"domain":[0,150],"nice":false},
"axis":{"title":"Demand","values":[0,50,100,150],"tickSize":-5,"labelPadding":7,"labelFont":"Liberation Sans","labelFontSize":12,"labelColor":"black","domainColor":"#555","tickColor":"#555","titleFont":"Liberation Serif","titleFontSize":13.5,"titleFontWeight":"normal","titleColor":"black","titlePadding":-1}},
"color":{"field":"series","type":"nominal",
"scale":{"domain":["q5","q4","q3","q2","q1","q0"],"range":["#FF0000","#FFFF00","#008000","#0A2463","#0000FF","#D4D0C8"]},
"legend":{"orient":"none","legendX":581,"legendY":3,"title":null,"symbolType":"M-1,-0.3H1V0.3H-1Z","symbolSize":900,"symbolStrokeColor":"black","symbolStrokeWidth":1,"symbolOpacity":1,"labelFont":"Liberation Serif","labelFontStyle":"italic","labelFontSize":14,"labelColor":"black","strokeColor":"black","fillColor":"white","padding":4,"rowPadding":0,"clipHeight":13.5,
"labelExpr":"datum.label == 'q0' ? 'q₀' : datum.label == 'q1' ? 'q₁' : datum.label == 'q2' ? 'q₂' : datum.label == 'q3' ? 'q₃' : datum.label == 'q4' ? 'q₄' : 'q₅'"}},
"order":{"field":"series","type":"ordinal","sort":"ascending"}
}
},
{
"data":{"name":"days_a"},
"mark":{"type":"text","font":"Liberation Serif","fontSize":12.5,"color":"black","baseline":"middle"},
"encoding":{"x":{"field":"x","type":"quantitative","title":null},"y":{"datum":-14},"text":{"field":"day"}}
},
{
"data":{"values":[{"x":284,"t":"(a)"}]},
"mark":{"type":"text","font":"Liberation Serif","fontSize":17,"fontWeight":"bold","color":"black","baseline":"middle"},
"encoding":{"x":{"field":"x","type":"quantitative","title":null},"y":{"datum":-31},"text":{"field":"t"}}
},
{
"data":{"values":[{"x":301.7,"t":"Variable demand"}]},
"mark":{"type":"text","font":"Liberation Serif","fontSize":17,"align":"left","color":"black","baseline":"middle"},
"encoding":{"x":{"field":"x","type":"quantitative","title":null},"y":{"datum":-31},"text":{"field":"t"}}
}
]
},
{
"width":649,"height":236,
"layer":[
{
"data":{"name":"bottom"},
"transform":[{"fold":["q0","q1","q2","q3","q4","q5"],"as":["series","value"]}],
"mark":{"type":"area","interpolate":"step-after","stroke":"black","strokeWidth":0.8,"opacity":1},
"encoding":{
"x":{"field":"x","type":"quantitative","scale":{"domain":[0,750],"nice":false},
"axis":{"title":null,"values":[0,100,200,300,400,500,600,700],"tickSize":-5,"labelPadding":9,"labelFlush":false,"labelOverlap":false,"labelFont":"Liberation Sans","labelFontSize":12,"labelColor":"black","domainColor":"#555","tickColor":"#555"}},
"y":{"field":"value","type":"quantitative","stack":"zero","scale":{"domain":[0,150],"nice":false},
"axis":{"title":"Demand","values":[0,50,100,150],"tickSize":-5,"labelPadding":7,"labelFont":"Liberation Sans","labelFontSize":12,"labelColor":"black","domainColor":"#555","tickColor":"#555","titleFont":"Liberation Serif","titleFontSize":13.5,"titleFontWeight":"normal","titleColor":"black","titlePadding":-1}},
"color":{"field":"series","type":"nominal",
"scale":{"domain":["q5","q4","q3","q2","q1","q0"],"range":["#FF0000","#FFFF00","#008000","#0000FF","#0A2463","#D4D0C8"]},
"legend":{"orient":"none","legendX":582,"legendY":7,"title":null,"symbolType":"M-1,-0.3H1V0.3H-1Z","symbolSize":900,"symbolStrokeColor":"black","symbolStrokeWidth":1,"symbolOpacity":1,"labelFont":"Liberation Serif","labelFontStyle":"italic","labelFontSize":14,"labelColor":"black","strokeColor":"black","fillColor":"white","padding":4,"rowPadding":0,"clipHeight":14,
"labelExpr":"datum.label == 'q0' ? 'q₀' : datum.label == 'q1' ? 'q₁' : datum.label == 'q2' ? 'q₂' : datum.label == 'q3' ? 'q₃' : datum.label == 'q4' ? 'q₄' : 'q₅'"}},
"order":{"field":"series","type":"ordinal","sort":"ascending"}
}
},
{
"data":{"name":"days_b"},
"mark":{"type":"text","font":"Liberation Serif","fontSize":12.5,"color":"black","baseline":"middle"},
"encoding":{"x":{"field":"x","type":"quantitative","title":null},"y":{"datum":-14.2},"text":{"field":"day"}}
},
{
"data":{"values":[{"x":293,"t":"(b)"}]},
"mark":{"type":"text","font":"Liberation Serif","fontSize":17,"fontWeight":"bold","color":"black","baseline":"middle"},
"encoding":{"x":{"field":"x","type":"quantitative","title":null},"y":{"datum":-29.7},"text":{"field":"t"}}
},
{
"data":{"values":[{"x":310,"t":"Stable demand"}]},
"mark":{"type":"text","font":"Liberation Serif","fontSize":17,"align":"left","color":"black","baseline":"middle"},
"encoding":{"x":{"field":"x","type":"quantitative","title":null},"y":{"datum":-29.7},"text":{"field":"t"}}
}
]
}
]
}
